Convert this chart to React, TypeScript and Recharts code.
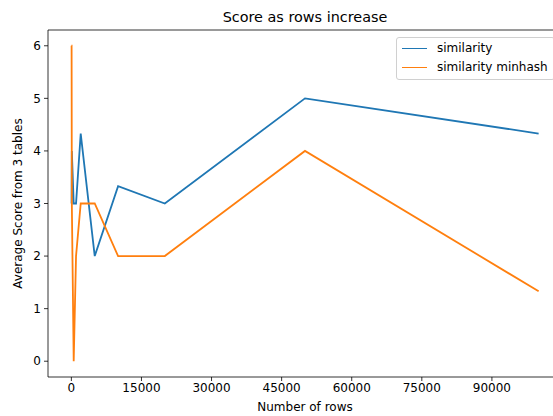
import React from "react";
import { LineChart, Line, XAxis, YAxis, ReferenceLine } from "recharts";

// Number of rows sampled per run
const rows = [10, 50, 100, 500, 1000, 2000, 5000, 10000, 20000, 50000, 100000];
// Average score across 3 tables
const similarity = [3, 3, 4, 3, 3, 4.33, 2, 3.33, 3, 5, 4.33];
const similarityMinhash = [6, 6, 3, 0, 2, 3, 3, 2, 2, 4, 1.33];

const xTicks = [0, 15000, 30000, 45000, 60000, 75000, 90000];
const yTicks = [0, 1, 2, 3, 4, 5, 6];

const data = rows.map((r, i) => ({
  rows: r,
  similarity: similarity[i],
  minhash: similarityMinhash[i],
}));

const FONT = "'DejaVu Sans', sans-serif";
const BLUE = "#1f77b4";
const ORANGE = "#ff7f0e";

const series = [
  { key: "similarity", name: "similarity", color: BLUE },
  { key: "minhash", name: "similarity minhash", color: ORANGE },
];

function LegendBox() {
  return (
    <div
      style={{
        position: "absolute",
        left: 396,
        top: 37,
        border: "1px solid #d0d0d0",
        borderRadius: 3,
        background: "rgba(255,255,255,0.8)",
        padding: "1px 6px 2px 5px",
        fontFamily: FONT,
        fontSize: 12,
        color: "#000",
        lineHeight: "19px",
        whiteSpace: "nowrap",
        zIndex: 2,
      }}
    >
      {series.map((e) => (
        <div key={e.key} style={{ display: "flex", alignItems: "center" }}>
          <span
            style={{
              display: "inline-block",
              width: 25,
              height: 0,
              borderTop: `1.8px solid ${e.color}`,
              marginRight: 10,
            }}
          />
          <span>{e.name}</span>
        </div>
      ))}
    </div>
  );
}

export default function App() {
  return (
    <div
      style={{
        position: "absolute",
        left: 0,
        top: 0,
        width: 553,
        height: 416,
        overflow: "hidden",
        background: "#fff",
      }}
    >
      <div
        style={{
          position: "absolute",
          top: 9,
          left: 48,
          width: 514,
          textAlign: "center",
          fontFamily: FONT,
          fontSize: 14.4,
          color: "#000",
        }}
      >
        Score as rows increase
      </div>
      <div
        style={{
          position: "absolute",
          top: 400,
          left: 48,
          width: 514,
          textAlign: "center",
          fontFamily: FONT,
          fontSize: 12,
          color: "#000",
        }}
      >
        Number of rows
      </div>
      <LegendBox />
      <LineChart
        width={570}
        height={416}
        data={data}
        margin={{ top: 30, right: 8, bottom: 0, left: 0 }}
      >
        <XAxis
          dataKey="rows"
          type="number"
          domain={[-5000, 105000]}
          ticks={xTicks}
          allowDataOverflow
          height={39}
          stroke="#000"
          strokeWidth={0.8}
          tickSize={4}
          tick={{ fill: "#000", fontSize: 12, fontFamily: FONT }}
          tickMargin={2}
        />
        <YAxis
          type="number"
          domain={[-0.3, 6.3]}
          ticks={yTicks}
          allowDataOverflow
          width={48}
          stroke="#000"
          strokeWidth={0.8}
          tickSize={4}
          tickMargin={3}
          tick={{ fill: "#000", fontSize: 12, fontFamily: FONT }}
          label={{
            value: "Average Score from 3 tables",
            angle: -90,
            position: "insideLeft",
            offset: 18,
            style: { textAnchor: "middle" },
            fill: "#000",
            fontSize: 12,
            fontFamily: FONT,
          }}
        />
        <ReferenceLine y={6.3} stroke="#000" strokeWidth={0.8} ifOverflow="extendDomain" />
        <ReferenceLine x={105000} stroke="#000" strokeWidth={0.8} ifOverflow="extendDomain" />
        {series.map((s) => (
          <Line
            key={s.key}
            type="linear"
            dataKey={s.key}
            name={s.name}
            stroke={s.color}
            strokeWidth={1.8}
            dot={false}
            isAnimationActive={false}
          />
        ))}
      </LineChart>
    </div>
  );
}
